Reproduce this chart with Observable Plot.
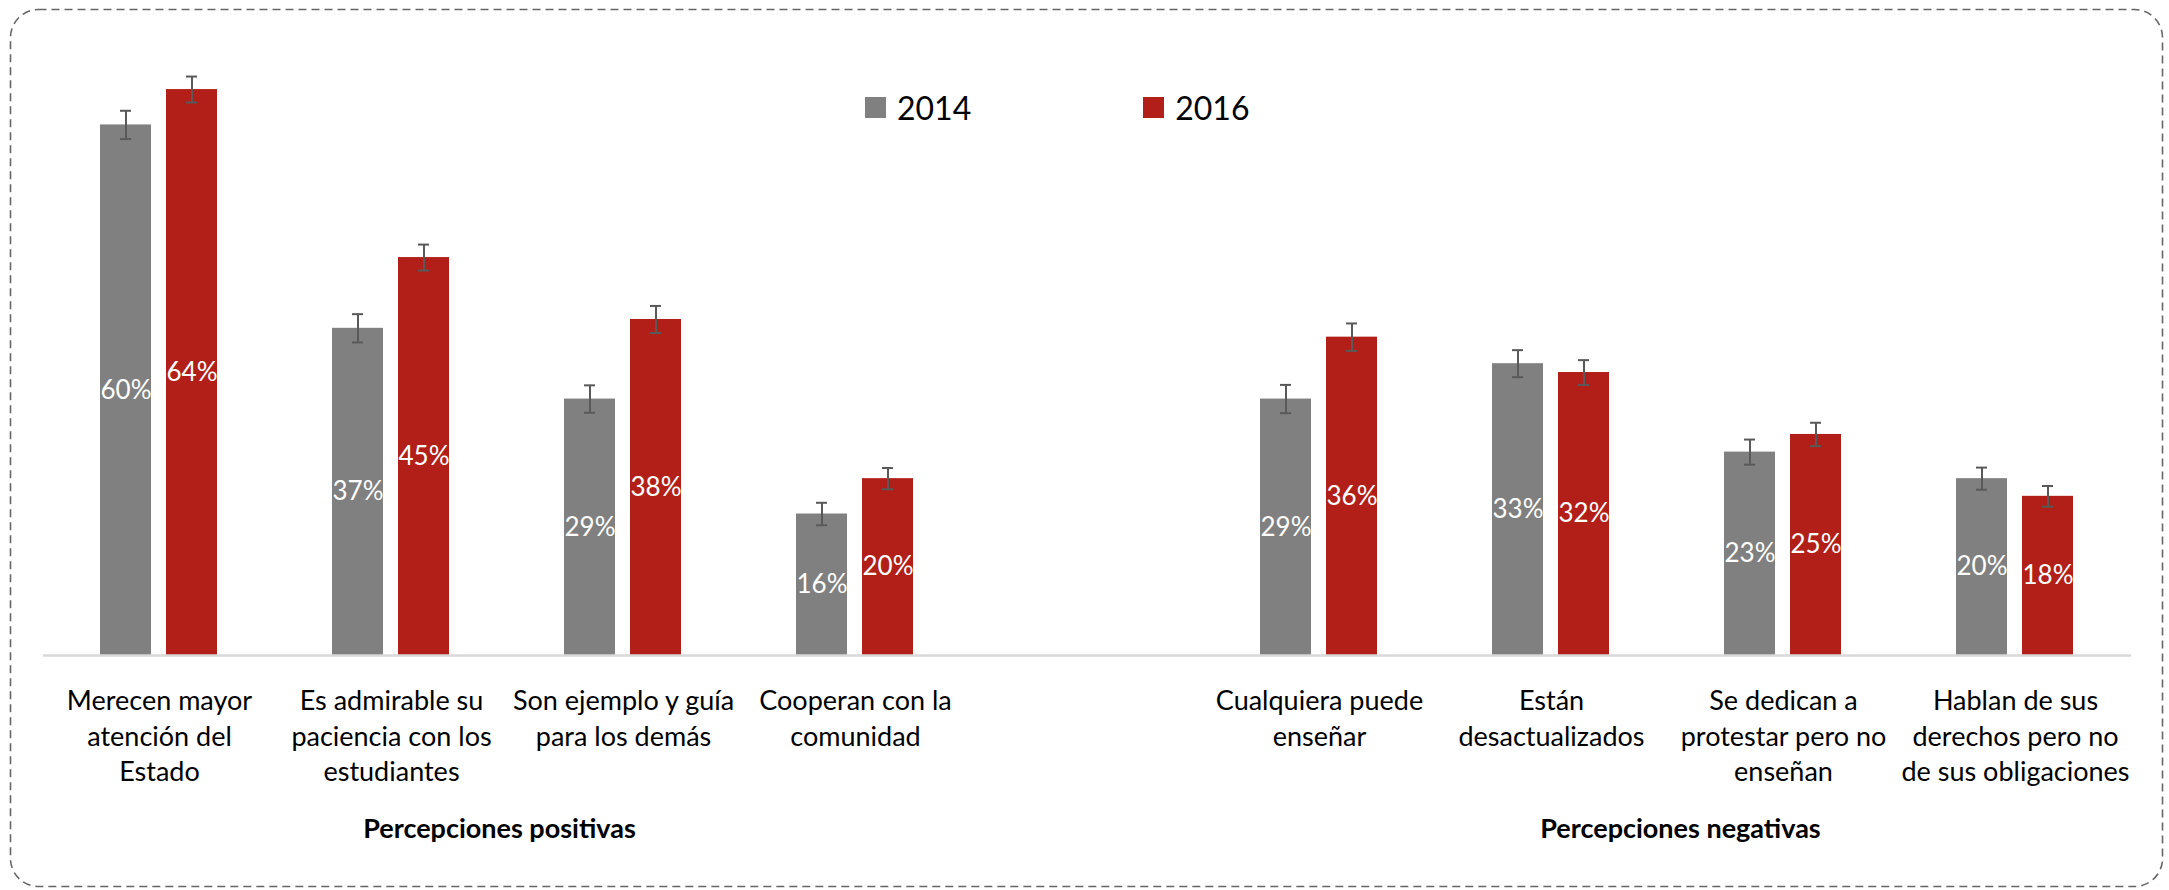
<!DOCTYPE html>
<html><head><meta charset="utf-8">
<script src="https://cdn.jsdelivr.net/npm/d3@7"></script>
<script src="https://cdn.jsdelivr.net/npm/@observablehq/plot@0.6"></script>
<style>
html,body{margin:0;padding:0;background:#fff;}
#wrap{position:relative;width:2169px;height:890px;overflow:hidden;}
#chart{position:absolute;left:0;top:0;}
#border{position:absolute;left:0;top:0;pointer-events:none;}
#leg{position:absolute;left:865px;top:88px;}
#leg span{margin-right:172px;}
#leg svg{margin-right:11px;}
</style></head>
<body><div id="wrap"><div id="chart"></div><div id="leg"></div>
<svg id="border" width="2169" height="890"><rect x="10.5" y="9.5" width="2152" height="877" rx="28" ry="28" fill="none" stroke="#666" stroke-width="1.6" stroke-dasharray="8 5"/></svg>
</div>
<script>
const years = ["2014", "2016"];
const colors = ["#808080", "#b21f18"];
const positiveCats = [
  "Merecen mayor\natención del\nEstado",
  "Es admirable su\npaciencia con los\nestudiantes",
  "Son ejemplo y guía\npara los demás",
  "Cooperan con la\ncomunidad"
];
const negativeCats = [
  "Cualquiera puede\nenseñar",
  "Están\ndesactualizados",
  "Se dedican a\nprotestar pero no\nenseñan",
  "Hablan de sus\nderechos pero no\nde sus obligaciones"
];
const groupLabels = ["Percepciones positivas", "Percepciones negativas"];
const pos2014 = [60, 37, 29, 16];
const pos2016 = [64, 45, 38, 20];
const neg2014 = [29, 33, 23, 20];
const neg2016 = [36, 32, 25, 18];
const posErr2014 = [1.6, 1.6, 1.55, 1.27];
const posErr2016 = [1.47, 1.47, 1.53, 1.2];
const negErr2014 = [1.6, 1.53, 1.42, 1.25];
const negErr2016 = [1.55, 1.4, 1.32, 1.17];

const gap = " ";
const fxDomain = [...positiveCats, gap, ...negativeCats];
const rows = [];
function add(cats, v14, v16, e14, e16) {
  cats.forEach((c, i) => {
    rows.push({cat: c, year: "2014", value: v14[i], err: e14[i]});
    rows.push({cat: c, year: "2016", value: v16[i], err: e16[i]});
  });
}
add(positiveCats, pos2014, pos2016, posErr2014, posErr2016);
add(negativeCats, neg2014, neg2016, negErr2014, negErr2016);
const catRows = [...positiveCats, ...negativeCats];

const font = "Lato, 'Open Sans', sans-serif";
const groupStyle = {text: d => d, frameAnchor: "bottom-left", textAnchor: "middle", lineAnchor: "top", dy: 163, fontSize: 27, fontWeight: "bold", fill: "#000"};
const chart = Plot.plot({
  width: 2169,
  height: 890,
  marginLeft: 42,
  marginRight: 38,
  marginTop: 36,
  marginBottom: 235,
  style: {fontFamily: font, background: "transparent", overflow: "visible"},
  fx: {domain: fxDomain, padding: 0, axis: null},
  x: {domain: years, paddingInner: 0.2239, paddingOuter: 0.8433, axis: null},
  y: {domain: [0, 70], axis: null},
  color: {domain: years, range: colors},
  marks: [
    Plot.barY(rows, {fx: "cat", x: "year", y: "value", fill: "year"}),
    Plot.ruleY(fxDomain, {fx: d => d, y: 0, stroke: "#d9d9d9", strokeWidth: 2.5}),
    Plot.ruleX(rows, {fx: "cat", x: "year", y1: d => d.value - d.err, y2: d => d.value + d.err, stroke: "#595959", strokeWidth: 2}),
    Plot.tickY(rows, {fx: "cat", x: "year", y: d => d.value - d.err, stroke: "#595959", strokeWidth: 2, insetLeft: 20, insetRight: 20}),
    Plot.tickY(rows, {fx: "cat", x: "year", y: d => d.value + d.err, stroke: "#595959", strokeWidth: 2, insetLeft: 20, insetRight: 20}),
    Plot.text(rows, {fx: "cat", x: "year", y: d => d.value / 2, text: d => d.value + "%", fill: "white", fontSize: 26}),
    Plot.text(catRows, {fx: d => d, text: d => d, frameAnchor: "bottom", lineAnchor: "top", dy: 30, fontSize: 27, lineHeight: 1.3, fill: "#000"}),
    Plot.text([groupLabels[0]], {...groupStyle, fx: () => positiveCats[2], dx: -8}),
    Plot.text([groupLabels[1]], {...groupStyle, fx: () => negativeCats[2], dx: 13})
  ]
});
document.getElementById("chart").appendChild(chart);

const leg = Plot.legend({
  color: {domain: years, range: colors},
  swatchSize: 21,
  style: {fontSize: "32px", fontFamily: font, color: "#000"}
});
document.getElementById("leg").appendChild(leg);
</script>
</body></html>
